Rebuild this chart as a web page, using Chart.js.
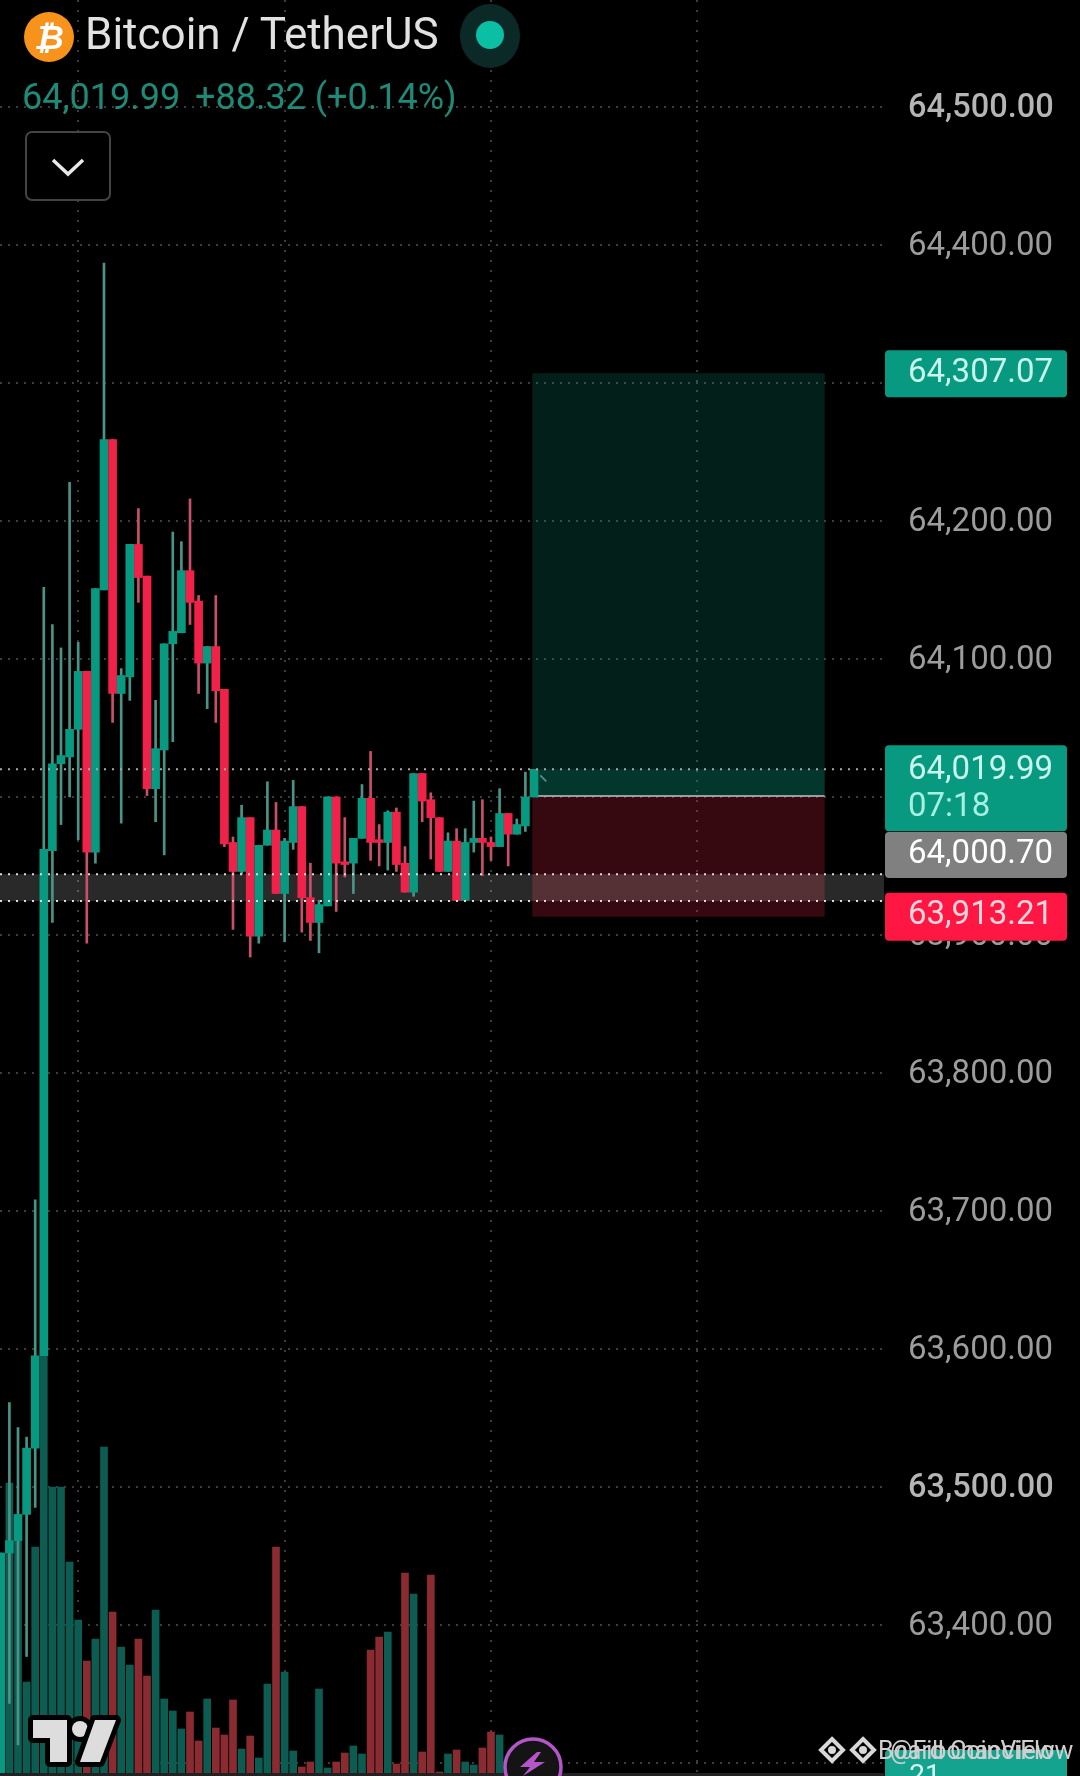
<!DOCTYPE html>
<html>
<head>
<meta charset="utf-8">
<title>Bitcoin / TetherUS</title>
<script src="https://cdn.jsdelivr.net/npm/chart.js@4"></script>
<style>
  html, body { margin: 0; padding: 0; background: #000; }
  #wrap { position: relative; width: 1080px; height: 1776px; overflow: hidden; font-family: Roboto, sans-serif; }
  #chart { position: absolute; left: 0; top: 0; }
  .txt { position: absolute; white-space: nowrap; line-height: 1; }
  #coin { position: absolute; left: 24px; top: 12px; width: 50px; height: 50px; border-radius: 50%; background: #f7931a; color: #fff;
    font: bold 34px/50px "DejaVu Sans", sans-serif; text-align: center; font-style: italic; }
  #halo { position: absolute; left: 460px; top: 4px; width: 60px; height: 64px; border-radius: 50%; background: #0b2a27; }
  #dot { position: absolute; left: 476px; top: 21px; width: 28px; height: 28px; border-radius: 50%; background: #0bbfa5; }
  #menu { position: absolute; left: 25px; top: 131px; width: 86px; height: 70px; box-sizing: border-box; border: 2px solid #444; border-radius: 7px; background: #000; }
  svg { position: absolute; left: 0; top: 0; pointer-events: none; }
</style>
</head>
<body>
<div id="wrap">
  <canvas id="chart" width="1080" height="1776"></canvas>
  <div id="coin">₿</div>
  <div class="txt" style="left:85px;top:12px;font-size:44px;color:#e2e2e2">Bitcoin / TetherUS</div>
  <div id="halo"></div><div id="dot"></div>
  <div class="txt" style="left:22px;top:79px;font-size:36px;color:#1f8a78">64,019.99</div>
  <div class="txt" style="left:195px;top:79px;font-size:36px;color:#1f8a78">+88.32 (+0.14%)</div>
  <div id="menu"></div>
  <svg width="1080" height="1776">
    <!-- dropdown chevron -->
    <polyline points="53,160 68,174 83,160" fill="none" stroke="#e8e8e8" stroke-width="3.5"/>
    <!-- TradingView logo -->
    <g fill="#ddd" stroke="#000" stroke-width="10" paint-order="stroke" stroke-linejoin="round">
      <polygon points="33,1720 67,1720 67,1762 50,1762 50,1738 33,1738"/>
      <circle cx="80" cy="1729" r="8"/>
      <polygon points="95,1720 116,1720 100,1762 80,1762"/>
    </g>
    <!-- bolt button -->
    <circle cx="533" cy="1767" r="28" fill="#141414" stroke="#b455c9" stroke-width="3.5"/>
    <polygon points="537,1752 520,1767 530,1767 523,1776 545,1762 534,1762 541,1752" fill="#b455c9"/>
    <!-- watermark diamonds -->
    <g fill="none" stroke="#d8d8d8" stroke-width="4">
      <polygon points="832,1739 843,1750 832,1761 821,1750"/>
      <polygon points="863,1739 874,1750 863,1761 852,1750"/>
      <circle cx="832" cy="1750" r="2"/>
      <circle cx="863" cy="1750" r="2"/>
    </g>
  </svg>
  <div class="txt" style="left:878px;top:1738px;font-size:25px;color:#cfcfcf">Board CoinView</div>
  <div class="txt" style="left:890px;top:1738px;font-size:25px;color:#cfcfcf">@FibonacciFlow</div>
</div>
<script>
// candles, oldest first
const open = [63280, 63452, 63461, 63480, 63528, 63595, 63961, 64024, 64029, 64049, 64091, 63960, 64150, 64259, 64075, 64087,
  64183, 64160, 64006, 64034, 64111, 64119, 64164, 64142, 64097, 64109, 64078, 63967, 63946, 63985, 63899, 63965,
  63976, 63930, 63967, 63993, 63927, 63909, 63921, 64000, 63953, 63952, 63970, 63999, 63969, 63967, 63989, 63952,
  63931, 64017, 63998, 63985, 63946, 63968, 63925, 63967, 63970, 63967, 63964, 63988, 63973, 63979, 64000];
const close = [63452, 63461, 63480, 63528, 63595, 63962, 64024, 64030, 64049, 64091, 63960, 64151, 64259, 64075, 64088, 64183,
  64159, 64006, 64035, 64111, 64120, 64164, 64141, 64097, 64109, 64077, 63966, 63946, 63985, 63899, 63965, 63976,
  63930, 63968, 63993, 63927, 63909, 63922, 64000, 63952, 63951, 63970, 63999, 63967, 63967, 63989, 63951, 63931,
  64017, 63997, 63985, 63946, 63968, 63925, 63967, 63970, 63967, 63964, 63988, 63973, 63980, 64000, 64019.99];
const high = [63452, 63561, 63543, 63536, 63708, 64152, 64125, 64108, 64228, 64112, 64091, 64151, 64387, 64259, 64093, 64183,
  64209, 64160, 64070, 64111, 64192, 64185, 64216, 64146, 64109, 64146, 64078, 63971, 63994, 63985, 63965, 64011,
  63996, 63970, 64012, 63993, 63952, 63925, 64000, 64000, 63985, 63970, 64009, 64033, 63980, 63990, 63992, 63964,
  64017, 64017, 64003, 63985, 63974, 63977, 63977, 63997, 63998, 63971, 64006, 63988, 63984, 64018, 64020];
const low = [63280, 63343, 63313, 63377, 63485, 63595, 63909, 63980, 64000, 63969, 63894, 63952, 64150, 64054, 63981, 64070,
  64141, 64001, 63982, 63958, 64040, 64119, 64125, 64075, 64064, 64054, 63964, 63904, 63944, 63884, 63894, 63965,
  63930, 63895, 63962, 63902, 63896, 63887, 63921, 63917, 63942, 63930, 63970, 63954, 63950, 63947, 63946, 63931,
  63928, 63982, 63955, 63946, 63946, 63925, 63925, 63960, 63943, 63954, 63964, 63950, 63973, 63975, 64000];
const volume = [111.5, 146.5, 123, 47, 114.5, 215.5, 144.5, 144.5, 107, 78, 57.5, 68.5, 164.5, 82, 64.5, 55.5,
  68.5, 50, 83, 38.5, 32.5, 23.5, 32, 17.5, 38.5, 24, 20.5, 38, 13.5, 20, 9, 46,
  114.5, 52, 12.5, 4.5, 7, 43.5, 4, 7, 11.5, 15, 11, 63, 69.5, 72, 6, 101.5,
  91, 12, 100.5, 2, 11, 13, 7, 5.5, 14, 22, 20.5, 5, 5, 5, 5];

// price axis
const priceTicks = [64500, 64400, 64300, 64200, 64100, 64000, 63900, 63800, 63700, 63600, 63500, 63400, 63300];
const majorTicks = [64500, 63500];
const timeTicks = [9, 33, 57, 81];

// long position tool and levels
const targetPrice = 64307.07;
const entryPrice = 64000.70;
const stopPrice = 63913.21;
const lastPrice = 64019.99;
const bandTop = 63944;
const bandBottom = 63924.5;
const toolStart = 61.8;
const toolEnd = 95.8;

const GREEN = '#089981';
const RED = '#f0224a';

const money = v => v.toLocaleString('en-US', { minimumFractionDigits: 2, maximumFractionDigits: 2 });
const isUp = i => close[i] >= open[i];

const wickData = high.map((h, i) => ({ x: i, y: [low[i], h] }));
const bodyData = open.map((o, i) => ({ x: i, y: [o, close[i]] }));
const volData = volume.map((v, i) => ({ x: i, y: v }));

// position zones and grey band go under the candles
const zones = {
  id: 'zones',
  beforeDatasetsDraw(chart) {
    const { ctx, chartArea, scales } = chart;
    const y = scales.y, x = scales.x;
    const x0 = x.getPixelForValue(toolStart), x1 = x.getPixelForValue(toolEnd);
    const entry = y.getPixelForValue(entryPrice);
    const last = y.getPixelForValue(lastPrice);
    ctx.save();
    ctx.fillStyle = 'rgba(8,153,129,0.2)';
    ctx.fillRect(x0, y.getPixelForValue(targetPrice), x1 - x0, entry - y.getPixelForValue(targetPrice));
    ctx.fillRect(x0, last, x1 - x0, entry - last);
    ctx.fillStyle = 'rgba(242,40,70,0.22)';
    ctx.fillRect(x0, entry, x1 - x0, y.getPixelForValue(stopPrice) - entry);
    ctx.fillStyle = 'rgba(255,255,255,0.16)';
    const bt = y.getPixelForValue(bandTop), bb = y.getPixelForValue(bandBottom);
    ctx.fillRect(chartArea.left, bt, chartArea.right - chartArea.left, bb - bt);
    ctx.strokeStyle = '#c4c4c4';
    ctx.lineWidth = 1.5;
    ctx.beginPath();
    ctx.moveTo(x0, entry);
    ctx.lineTo(x1, entry);
    ctx.stroke();
    ctx.restore();
  },
  afterDatasetsDraw(chart) {
    const { ctx, chartArea, scales } = chart;
    const y = scales.y, x = scales.x;
    const last = y.getPixelForValue(lastPrice);
    ctx.save();
    // dotted price lines
    ctx.lineWidth = 2;
    ctx.setLineDash([2, 6]);
    [[lastPrice, '#a8a8a8'], [bandTop, '#dcdcdc'], [bandBottom, '#dcdcdc']].forEach(([p, color]) => {
      const py = y.getPixelForValue(p);
      ctx.strokeStyle = color;
      ctx.beginPath();
      ctx.moveTo(chartArea.left, py);
      ctx.lineTo(chartArea.right, py);
      ctx.stroke();
    });
    ctx.setLineDash([]);
    // little tool handle
    const hx = x.getPixelForValue(toolStart) + 8;
    ctx.strokeStyle = '#4d8c80';
    ctx.beginPath();
    ctx.moveTo(hx, last + 6);
    ctx.lineTo(hx + 6, last + 12);
    ctx.stroke();

    // axis badges
    const left = chartArea.right + 1, w = 182;
    const badge = (top, h, color) => {
      ctx.fillStyle = color;
      ctx.beginPath();
      ctx.roundRect(left, top, w, h, 4);
      ctx.fill();
    };
    const label = (text, cy, color) => {
      ctx.fillStyle = color;
      ctx.font = '33px Roboto';
      ctx.textBaseline = 'middle';
      ctx.textAlign = 'left';
      ctx.fillText(text, 908, cy);
    };
    const tp = y.getPixelForValue(targetPrice);
    badge(tp - 23, 47, GREEN);
    label(money(targetPrice), tp, '#c8f5ec');
    const ep = y.getPixelForValue(entryPrice);
    badge(ep + 36, 46, '#808080');
    label(money(entryPrice), ep + 59, '#ffffff');
    badge(last - 24, 86, GREEN);
    label(money(lastPrice), last + 1, '#c8f5ec');
    label('07:18', last + 38, '#a6f0e2');
    const sp = y.getPixelForValue(stopPrice);
    badge(sp - 24, 48, '#ff1744');
    label(money(stopPrice), sp - 1, '#f9d5dc');
    // next bar badge, cut by the window edge
    badge(1750, 40, '#14a38f');
    ctx.fillStyle = '#d8f7f1';
    ctx.font = '28px Roboto';
    ctx.textAlign = 'center';
    ctx.fillText('21', 925, 1777);
    // strip along the bottom edge
    ctx.fillStyle = '#222';
    ctx.fillRect(0, 1773, 884, 3);
    ctx.restore();
  }
};

new Chart(document.getElementById('chart'), {
  type: 'bar',
  data: {
    datasets: [
      {
        label: 'Volume', yAxisID: 'vol', data: volData, order: 3, barThickness: 7,
        backgroundColor: volume.map((_, i) => isUp(i) ? '#0d5c52' : '#8a2b32')
      },
      {
        label: 'Wick', yAxisID: 'y', data: wickData, order: 2, barThickness: 2,
        backgroundColor: high.map((_, i) => isUp(i) ? '#4a9487' : '#c9506a')
      },
      {
        label: 'Body', yAxisID: 'y', data: bodyData, order: 1, barThickness: 8,
        backgroundColor: open.map((_, i) => isUp(i) ? GREEN : RED)
      }
    ]
  },
  options: {
    responsive: false,
    animation: false,
    layout: { padding: 0, autoPadding: false },
    datasets: { bar: { grouped: false, borderWidth: 0, borderSkipped: false } },
    plugins: { legend: { display: false }, tooltip: { enabled: false } },
    scales: {
      x: {
        type: 'linear',
        offset: false,
        min: -0.093,
        max: 102.7,
        afterBuildTicks: s => { s.ticks = timeTicks.map(v => ({ value: v })); },
        afterFit: s => { s.height = 0; },
        ticks: { display: false },
        border: { display: false, dash: [2, 8] },
        grid: { offset: false, color: '#3c3c3c', lineWidth: 2, drawTicks: false }
      },
      y: {
        position: 'right',
        min: 63290.4,
        max: 64577.6,
        afterBuildTicks: s => { s.ticks = priceTicks.map(v => ({ value: v })); },
        // full bleed: no room kept for the first and last label
        afterFit: s => { s.width = 196; s.paddingTop = 0; s.paddingBottom = 0; },
        border: { display: false, dash: [2, 6] },
        grid: { color: '#3c3c3c', lineWidth: 2, drawTicks: false },
        ticks: {
          padding: 24,
          labelOffset: 2,
          autoSkip: false,
          callback: v => money(v),
          font: c => {
            const major = majorTicks.includes(c.tick && c.tick.value);
            return { family: 'Roboto', size: major ? 32.5 : 33, weight: major ? '500' : 'normal' };
          },
          color: c => majorTicks.includes(c.tick && c.tick.value) ? '#b5b5b5' : '#9c9c9c'
        }
      },
      vol: { display: false, min: 0, max: 888 }
    }
  },
  plugins: [zones]
});
</script>
</body>
</html>
